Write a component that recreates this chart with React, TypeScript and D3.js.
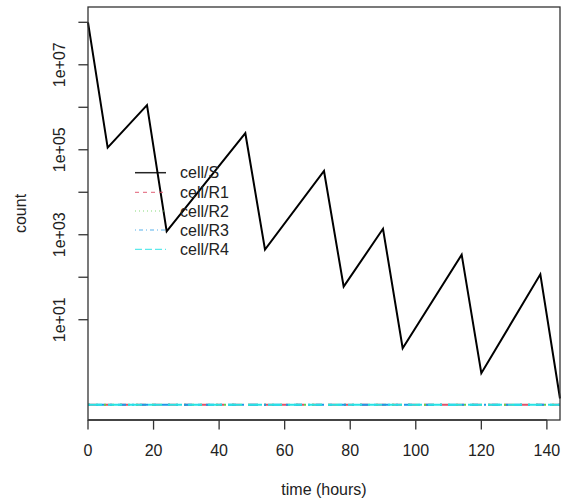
import React from "react";
import * as d3 from "d3";

const times = [0, 6, 18, 24, 48, 54, 72, 78, 90, 96, 114, 120, 138, 144];
const cellS = [1e8, 1.12e5, 1.12e6, 1.2e3, 2.45e5, 447, 3.16e4, 60, 1380, 2.14, 339, 0.55, 117, 0.14];
const cellR1 = [0.1, 0.1, 0.1, 0.1, 0.1, 0.1, 0.1, 0.1, 0.1, 0.1, 0.1, 0.1, 0.1, 0.1];
const cellR2 = [0.1, 0.1, 0.1, 0.1, 0.1, 0.1, 0.1, 0.1, 0.1, 0.1, 0.1, 0.1, 0.1, 0.1];
const cellR3 = [0.1, 0.1, 0.1, 0.1, 0.1, 0.1, 0.1, 0.1, 0.1, 0.1, 0.1, 0.1, 0.1, 0.1];
const cellR4 = [0.1, 0.1, 0.1, 0.1, 0.1, 0.1, 0.1, 0.1, 0.1, 0.1, 0.1, 0.1, 0.1, 0.1];

const seriesNames = ["cell/S", "cell/R1", "cell/R2", "cell/R3", "cell/R4"];
const seriesValues = [cellS, cellR1, cellR2, cellR3, cellR4];
const seriesColors = ["#000000", "#DF536B", "#61D04F", "#2297E6", "#28E2E5"];
const plotDash = [null, "8,8", "2,6", "2,6,8,6", "14,6"];
const legendDash = [null, "4,4", "1,3", "1,3,4,3", "7,3"];

const xTicks = [0, 20, 40, 60, 80, 100, 120, 140];
const yTicks = [1e1, 1e2, 1e3, 1e4, 1e5, 1e6, 1e7, 1e8];
const yLabels = ["1e+01", "", "1e+03", "", "1e+05", "", "1e+07", ""];

const W = 567, H = 502;
const L = 88, R = 560, T = 7, B = 420;
const font = "'Liberation Sans', Arial, sans-serif";

export default function App() {
  const x = d3.scaleLinear().domain([0, 144]).range([L, R]);
  const y = d3.scaleLog().domain([Math.pow(10, -1.36), Math.pow(10, 8.36)]).range([B, T]);
  const line = d3.line<[number, number]>().x(d => x(d[0])).y(d => y(d[1]));
  const tickLen = 9.6;
  const legendRows = [172.7, 192.3, 211, 230, 249.3];
  return (
    <svg width={W} height={H} style={{ position: "absolute", left: 0, top: 0, background: "#fff" }} fontFamily={font}>
      <rect x={0} y={0} width={W} height={H} fill="#fff" />
      {seriesValues.map((vals, i) => (
        <path
          key={i}
          d={line(times.map((t, j) => [t, vals[j]]) as [number, number][]) || ""}
          fill="none"
          stroke={seriesColors[i]}
          strokeWidth={2}
          strokeDasharray={plotDash[i] || undefined}
        />
      ))}
      <rect x={L} y={T} width={R - L} height={B - T} fill="none" stroke="#333" strokeWidth={1.3} />
      {xTicks.map(t => (
        <g key={t}>
          <line x1={x(t)} x2={x(t)} y1={B} y2={B + tickLen} stroke="#333" strokeWidth={1.3} />
          <text x={x(t)} y={456} textAnchor="middle" fontSize={16} fill="#222">{t}</text>
        </g>
      ))}
      <line x1={x(0)} x2={x(140)} y1={B} y2={B} stroke="#333" strokeWidth={1.3} />
      {yTicks.map((t, i) => (
        <g key={t}>
          <line x1={L - tickLen} x2={L} y1={y(t)} y2={y(t)} stroke="#333" strokeWidth={1.3} />
          {yLabels[i] && (
            <text transform={`translate(65,${y(t)}) rotate(-90)`} textAnchor="middle" fontSize={16} fill="#222">{yLabels[i]}</text>
          )}
        </g>
      ))}
      <text x={(L + R) / 2} y={495} textAnchor="middle" fontSize={16} fill="#222">time (hours)</text>
      <text transform={`translate(25.5,${(T + B) / 2}) rotate(-90)`} textAnchor="middle" fontSize={16} fill="#222">count</text>
      {seriesNames.map((n, i) => (
        <g key={n}>
          <line x1={135} x2={166} y1={legendRows[i]} y2={legendRows[i]} stroke={seriesColors[i]} strokeWidth={i === 0 ? 1.5 : 1.2} strokeDasharray={legendDash[i] || undefined} opacity={i === 0 ? 0.85 : 0.75} />
          <text x={180} y={legendRows[i] + 5.7} fontSize={16} fill="#222">{n}</text>
        </g>
      ))}
    </svg>
  );
}
